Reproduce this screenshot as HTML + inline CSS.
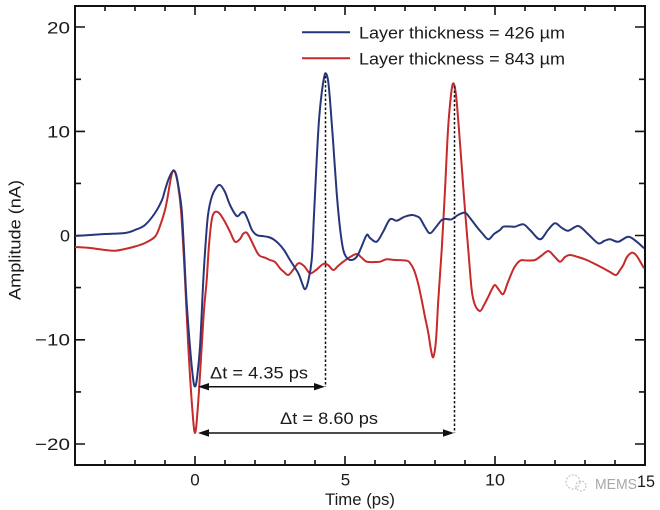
<!DOCTYPE html>
<html><head><meta charset="utf-8"><style>
html,body{margin:0;padding:0;background:#fff;}
svg{display:block;}
text{font-family:"Liberation Sans",Arial,sans-serif;fill:#1a1a1a;}
</style></head><body>
<svg id="chart" width="660" height="510" viewBox="0 0 660 510" xmlns="http://www.w3.org/2000/svg">
<rect width="660" height="510" fill="#fff"/>
<g stroke="#111" stroke-width="1.6">
<path d="M105 465v-5M135 465v-5M165 465v-5M195 465v-9M225 465v-5M255 465v-5M285 465v-5M315 465v-5M345 465v-9M375 465v-5M405 465v-5M435 465v-5M465 465v-5M495 465v-9M525 465v-5M555 465v-5M585 465v-5M615 465v-5"/>
<path d="M105 6v5M135 6v5M165 6v5M195 6v9M225 6v5M255 6v5M285 6v5M315 6v5M345 6v9M375 6v5M405 6v5M435 6v5M465 6v5M495 6v9M525 6v5M555 6v5M585 6v5M615 6v5"/>
<path d="M75 27h10M75 79.3h6M75 131.4h10M75 183.4h6M75 235.5h10M75 287.6h6M75 339.8h10M75 391.9h6M75 444h10"/>
<path d="M645 27h-10M645 79.3h-6M645 131.4h-10M645 183.4h-6M645 235.5h-10M645 287.6h-6M645 339.8h-10M645 391.9h-6M645 444h-10"/>
</g>
<rect x="75" y="6" width="570" height="459" fill="none" stroke="#111" stroke-width="2"/>

<polyline class="s" fill="none" stroke="#c62a2a" stroke-width="2" stroke-linejoin="round" points="
75,247 90,248 105,250 115,250.7 125,249 135,246.5 145,243 155,236.7 160,226 165,210 168,195 170,183 172.5,171.5 175,172 178,185 181,210 184,260 186,300 188.3,347 192,405 195,433 198,405 201.7,347 204,310 206.7,280 209,245 211.7,220 214,213 216.7,211.7 220,214 225,222 230,231.7 235,241.7 240,239 243,234 246.7,232.7 251,240 256.7,251.7 260,256 265,257.7 270,260 275,262 280,268.3 284,272 288.3,275 293,270 298.3,263.3 304,266 310,273.3 316,270 323.3,264 328,265 333.3,270 338,266 343.3,261.7 350,257 356.7,254 361,257 366.7,261.7 375,262 380,261.7 386.7,259.3 395,260 406.7,260.7 410,263 414,270 418,283 421.7,300 425,317 428.3,333 431,350 433.3,357 436,340 438.3,300 441.7,250 445,190 448,130 451,95 453.3,83.3 456,95 459,130 462,170 465,210 468.3,250 471.7,290 475,305 480,311 484,305 488.3,296.7 492,289 495,285 499,290 503.3,294 508,282 514,268 520,260.7 527,260.5 535,260 541,256 548.3,251 554,256 560,261.7 565,257 570,255 578,257 586.7,260 595,264 603.3,268.3 610,272 616,275 620,270 623.3,265 627,257 631.7,252.7 635,254 638.3,258.3 644,268.3"/>

<polyline class="s" fill="none" stroke="#27367a" stroke-width="2" stroke-linejoin="round" points="
75,236 90,235 105,234 125,233 135,230 145,225 155,213 162,200 165,190 169,178 173,171 176,174 179,190 181.7,210 184,250 186.5,300 190,347 193,378 195,386.5 197,378 200,347 203.3,280 205.5,245 208,215 211.7,197 216,188 220,185 225,192 230,205 236.7,216 241,213 244.3,212.5 248,220 252,230 256.7,235 262,236 268.3,237 273,239 278.3,243.3 284,250 290,260 298.3,273.3 302,283 305,289.3 308,282 311.7,260 314,215 316.7,160 319,120 321.7,93 324,78 325.7,73.3 328,80 330,100 333,140 336.7,193 340,228 343.3,250 347,258 351.7,260 356.7,256.7 361,248 366.7,235 370,238 376.7,241.7 383,232 390,219.3 396.7,220.7 404,217 411.7,215 416,216 420,218.3 425,227 430,233.3 436,227 441.7,220 446,219 451.7,219.3 458,215 465,212.7 470,218 476.7,226.7 482,233 488.3,239.3 494,234 500,230 503.3,226.7 510,226.5 515,226.7 523.3,224.3 530,230 540,239.3 548,230 555,223.3 562,228 568.3,230.7 578.3,226 588,234 598.3,243.3 604,241 610,239.3 618.3,241.7 628.3,236.7 636.7,241.7 644,248.3"/>

<g stroke="#111" stroke-width="1.5" stroke-dasharray="2.5,2">
<line x1="325.5" y1="76" x2="325.5" y2="387"/>
<line x1="454.5" y1="86" x2="454.5" y2="433"/>
</g>
<g stroke="#111" stroke-width="1.5">
<line x1="205" y1="386.7" x2="318" y2="386.7"/>
<line x1="205" y1="433" x2="447" y2="433"/>
</g>
<g fill="#111">
<polygon points="198,386.7 209,383 209,390.4"/>
<polygon points="325,386.7 314,383 314,390.4"/>
<polygon points="198,433 209,429.3 209,436.7"/>
<polygon points="454,433 443,429.3 443,436.7"/>
</g>
<text x="210" y="378.5" font-size="17" textLength="98" lengthAdjust="spacingAndGlyphs">Δt = 4.35 ps</text>
<text x="280" y="424" font-size="17" textLength="98" lengthAdjust="spacingAndGlyphs">Δt = 8.60 ps</text>

<line x1="302" y1="32.3" x2="350" y2="32.3" stroke="#27367a" stroke-width="2"/>
<line x1="302" y1="58.3" x2="350" y2="58.3" stroke="#c62a2a" stroke-width="2"/>
<text x="359" y="38.5" font-size="16.5" textLength="206" lengthAdjust="spacingAndGlyphs">Layer thickness = 426 µm</text>
<text x="359" y="64.5" font-size="16.5" textLength="206" lengthAdjust="spacingAndGlyphs">Layer thickness = 843 µm</text>

<g font-size="17" text-anchor="end">
<text x="70" y="33.5" textLength="23" lengthAdjust="spacingAndGlyphs">20</text>
<text x="70" y="137.5" textLength="23" lengthAdjust="spacingAndGlyphs">10</text>
<text x="70" y="241.7" textLength="10" lengthAdjust="spacingAndGlyphs">0</text>
<text x="70" y="345.5" textLength="35" lengthAdjust="spacingAndGlyphs">−10</text>
<text x="70" y="450" textLength="35" lengthAdjust="spacingAndGlyphs">−20</text>
</g>
<g font-size="17" text-anchor="middle">
<text x="195" y="485.5">0</text>
<text x="345.5" y="485.5">5</text>
<text x="495" y="485.5" textLength="20" lengthAdjust="spacingAndGlyphs">10</text>
</g>

<g fill="none" stroke="#c4c4c4" stroke-width="1.2" stroke-dasharray="2,1.5">
<circle cx="573" cy="482" r="7"/>
<circle cx="581" cy="486" r="5"/>
</g>
<text x="595" y="489" font-size="15" style="fill:#a8a8a8" textLength="42" lengthAdjust="spacingAndGlyphs">MEMS</text>
<text x="637" y="487" font-size="17" textLength="18" lengthAdjust="spacingAndGlyphs">15</text>

<text x="325" y="505" font-size="16.5" textLength="70" lengthAdjust="spacingAndGlyphs">Time (ps)</text>
<text transform="translate(20.5,300) rotate(-90)" font-size="16.5" textLength="120" lengthAdjust="spacingAndGlyphs">Amplitude (nA)</text>
</svg>
<script>
(function(){
  var ns="http://www.w3.org/2000/svg";
  var pls=document.querySelectorAll("polyline.s");
  for(var k=0;k<pls.length;k++){
    var pl=pls[k];
    var raw=pl.getAttribute("points").trim().split(/\s+/);
    var p=raw.map(function(s){var a=s.split(",");return [parseFloat(a[0]),parseFloat(a[1])];});
    var d="M"+p[0][0]+" "+p[0][1];
    for(var i=0;i<p.length-1;i++){
      var p0=p[i-1]||p[i], p1=p[i], p2=p[i+1], p3=p[i+2]||p[i+1];
      var t=1/6;
      var c1x=p1[0]+(p2[0]-p0[0])*t, c1y=p1[1]+(p2[1]-p0[1])*t;
      var c2x=p2[0]-(p3[0]-p1[0])*t, c2y=p2[1]-(p3[1]-p1[1])*t;
      d+=" C"+c1x.toFixed(2)+" "+c1y.toFixed(2)+" "+c2x.toFixed(2)+" "+c2y.toFixed(2)+" "+p2[0]+" "+p2[1];
    }
    var path=document.createElementNS(ns,"path");
    path.setAttribute("d",d);
    path.setAttribute("fill","none");
    path.setAttribute("stroke",pl.getAttribute("stroke"));
    path.setAttribute("stroke-width",pl.getAttribute("stroke-width"));
    path.setAttribute("stroke-linejoin","round");
    pl.parentNode.replaceChild(path,pl);
  }
})();
</script>
</body></html>
